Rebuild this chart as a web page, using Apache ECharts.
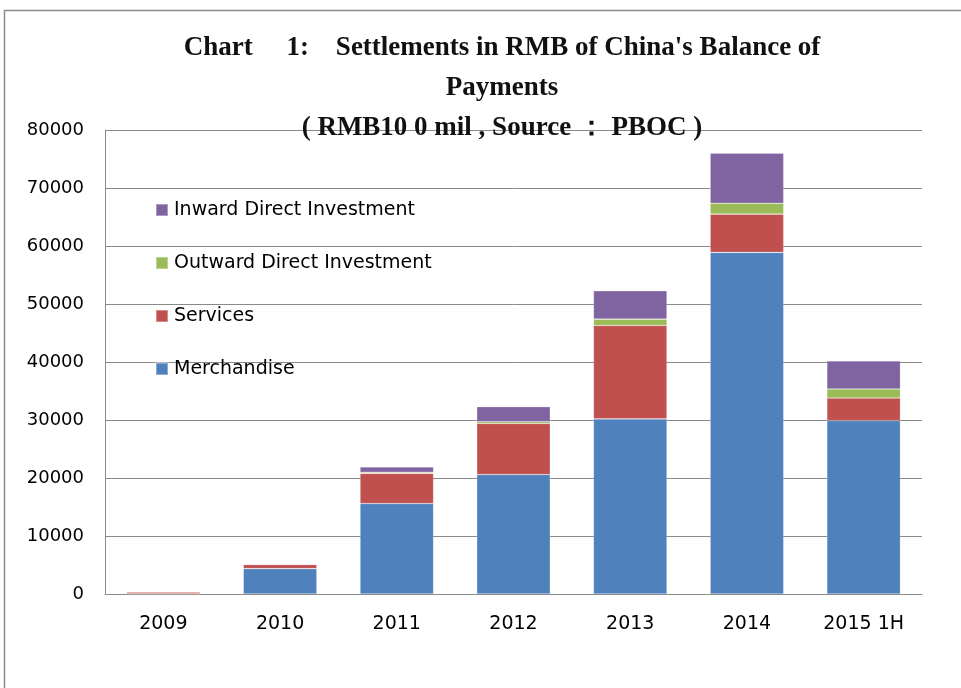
<!DOCTYPE html>
<html>
<head>
<meta charset="utf-8">
<script src="https://cdn.jsdelivr.net/npm/echarts@6/dist/echarts.min.js"></script>
<style>
html,body{margin:0;padding:0;background:#fff;}
#chart{width:961px;height:688px;}
</style>
</head>
<body>
<div id="chart"></div>
<script>
var categories = ['2009', '2010', '2011', '2012', '2013', '2014', '2015 1H'];
var merchandise = [36, 4380, 15600, 20600, 30200, 58900, 29900];
var services = [330, 700, 5200, 8800, 16100, 6600, 3900];
var outwardDI = [0, 0, 200, 300, 1100, 1870, 1550];
var inwardDI = [0, 0, 900, 2600, 4880, 8620, 4850];
var yTicks = [0, 80000, 10000];

var titleLines = "Chart\u3000 1:\u3000Settlements in RMB of China's Balance of\nPayments\n( RMB10 0 mil , Source \uff1a PBOC )";

var chart = echarts.init(document.getElementById('chart'));
var barStyle = function (c) {
  return { color: c, borderColor: 'rgba(255,255,255,0.35)', borderWidth: 0.6 };
};
chart.setOption({
  animation: false,
  graphic: [{
    type: 'rect', silent: true,
    shape: { x: 4.5, y: 10.5, width: 1200, height: 1200 },
    style: { fill: 'none', stroke: '#8a8a8a', lineWidth: 1.5 }
  }],
  title: {
    text: titleLines,
    left: 497, top: 23, textAlign: 'center',
    textStyle: {
      fontFamily: 'Liberation Serif', fontSize: 27, fontWeight: 'bold',
      color: '#111', lineHeight: 40
    }
  },
  legend: {
    orient: 'vertical', left: 150, top: 194,
    itemWidth: 12, itemHeight: 12, itemGap: 31,
    icon: 'rect',
    data: ['Inward Direct Investment', 'Outward Direct Investment', 'Services', 'Merchandise'],
    textStyle: { fontFamily: 'DejaVu Sans', fontSize: 19, color: '#000', lineHeight: 22, padding: [0, 0, 0, 1] }
  },
  grid: { left: 105, right: 39, top: 130, bottom: 94 },
  xAxis: {
    type: 'category', data: categories,
    axisLine: { lineStyle: { color: '#8a8a8a', width: 1 } },
    axisTick: { show: false },
    axisLabel: { margin: 21, fontFamily: 'DejaVu Sans', fontSize: 19, color: '#000' }
  },
  yAxis: {
    type: 'value', min: yTicks[0], max: yTicks[1], interval: yTicks[2],
    axisLine: { show: true, lineStyle: { color: '#8a8a8a', width: 1 } },
    axisTick: { show: false },
    splitLine: { lineStyle: { color: '#8a8a8a', width: 1 } },
    axisLabel: { margin: 21, fontFamily: 'DejaVu Sans', fontSize: 18, color: '#000', formatter: function (v) { return String(v); } }
  },
  series: [
    { name: 'Merchandise', type: 'bar', stack: 't', barWidth: '63%', data: merchandise, itemStyle: barStyle('#4F81BD') },
    { name: 'Services', type: 'bar', stack: 't', data: services, itemStyle: barStyle('#C0504D') },
    { name: 'Outward Direct Investment', type: 'bar', stack: 't', data: outwardDI, itemStyle: barStyle('#9BBB59') },
    { name: 'Inward Direct Investment', type: 'bar', stack: 't', data: inwardDI, itemStyle: barStyle('#8064A2') }
  ]
});
</script>
</body>
</html>
